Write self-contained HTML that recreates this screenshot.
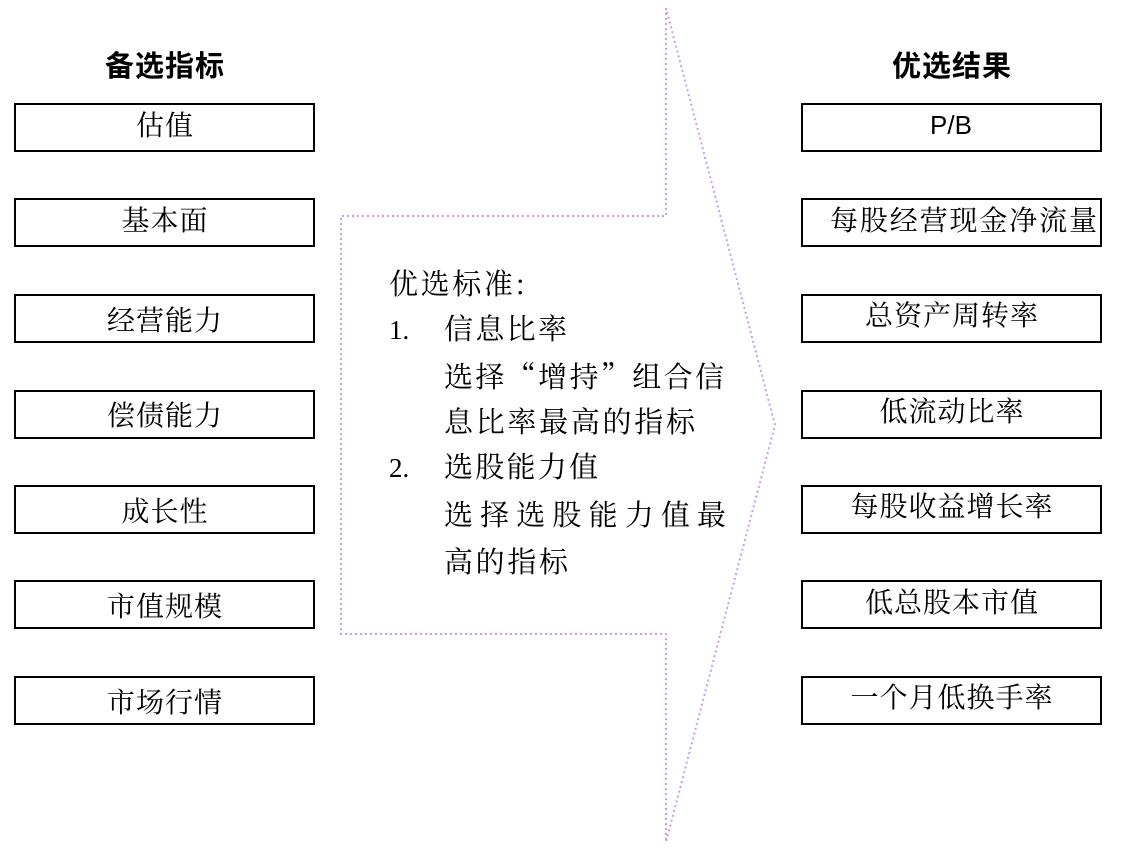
<!DOCTYPE html>
<html><head><meta charset="utf-8"><style>html,body{margin:0;padding:0;background:#fff}svg{display:block}</style></head>
<body>
<svg width="1134" height="855" viewBox="0 0 1134 855" xmlns="http://www.w3.org/2000/svg">
<polygon points="666,8 666,216 341,216 341,634 666,634 666,842 775,425" fill="none" stroke="#c79cf2" stroke-width="2" stroke-dasharray="2,3"/>
<g font-family="'Liberation Sans','Noto Sans CJK SC',sans-serif" font-weight="bold" font-size="29" text-anchor="middle" fill="#000" letter-spacing="1">
<text x="165" y="76">备选指标</text>
<text x="952" y="76">优选结果</text>
</g>
<g fill="#fff" stroke="#000" stroke-width="2">
<rect x="15" y="104" width="299" height="47"/><rect x="15" y="199" width="299" height="47"/><rect x="15" y="295" width="299" height="47"/><rect x="15" y="391" width="299" height="47"/><rect x="15" y="486" width="299" height="47"/><rect x="15" y="581" width="299" height="47"/><rect x="15" y="677" width="299" height="47"/>
<rect x="802" y="104" width="299" height="47"/><rect x="802" y="199" width="299" height="47"/><rect x="802" y="295" width="299" height="47"/><rect x="802" y="391" width="299" height="47"/><rect x="802" y="486" width="299" height="47"/><rect x="802" y="581" width="299" height="47"/><rect x="802" y="677" width="299" height="47"/>
</g>
<g font-family="'Noto Serif CJK SC',serif" font-size="28" text-anchor="middle" fill="#000" letter-spacing="1">
<text x="165" y="135">估值</text><text x="165" y="230">基本面</text><text x="165" y="330">经营能力</text><text x="165" y="425">偿债能力</text><text x="165" y="521">成长性</text><text x="165" y="616">市值规模</text><text x="165" y="712">市场行情</text>
<text x="951" y="134" font-family="'Liberation Sans',sans-serif" font-size="26" letter-spacing="0">P/B</text>
<text x="830" y="230" text-anchor="start" letter-spacing="0" textLength="267" lengthAdjust="spacing">每股经营现金净流量</text>
<text x="952" y="325">总资产周转率</text><text x="952" y="421">低流动比率</text><text x="952" y="516">每股收益增长率</text><text x="952" y="612">低总股本市值</text><text x="952" y="707">一个月低换手率</text>
</g>
<g font-family="'Noto Serif CJK SC',serif" font-size="29" fill="#000">
<text x="389" y="294" textLength="136" lengthAdjust="spacing">优选标准:</text>
<text x="389" y="339" font-family="'Liberation Serif',serif" font-size="27">1.</text><text x="444" y="339" textLength="123" lengthAdjust="spacing">信息比率</text>
<text x="444" y="387" textLength="280" lengthAdjust="spacing">选择“增持”组合信</text>
<text x="444" y="432" textLength="251" lengthAdjust="spacing">息比率最高的指标</text>
<text x="389" y="477" font-family="'Liberation Serif',serif" font-size="27">2.</text><text x="444" y="477" textLength="154" lengthAdjust="spacing">选股能力值</text>
<text x="444" y="525" textLength="282" lengthAdjust="spacing">选择选股能力值最</text>
<text x="444" y="572" textLength="124" lengthAdjust="spacing">高的指标</text>
</g>
</svg>
</body></html>
